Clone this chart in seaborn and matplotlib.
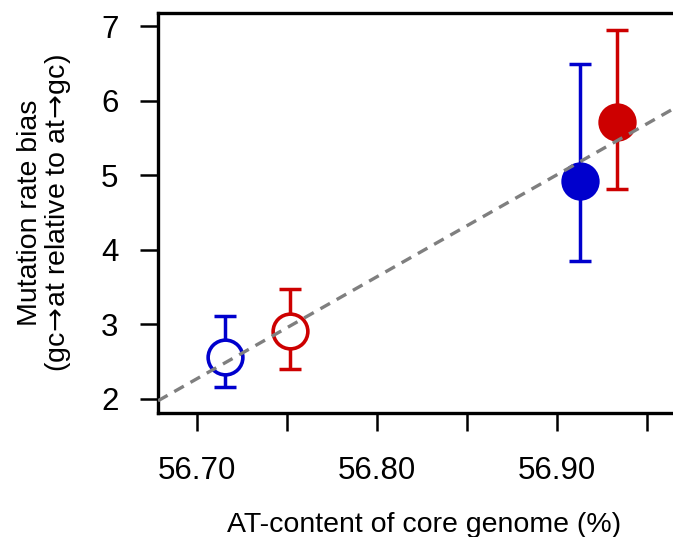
import numpy as np
import pandas as pd
import matplotlib
matplotlib.use("Agg")
import matplotlib.pyplot as plt
import seaborn as sns

# values
at_content = [56.7157, 56.7518, 56.913, 56.9337]
bias = [2.563, 2.91, 4.926, 5.709]
bias_low = [2.157, 2.40, 3.854, 4.81]
bias_high = [3.11, 3.475, 6.49, 6.946]
colors = ["#0000CD", "#CD0000", "#0000CD", "#CD0000"]
filled = [False, False, True, True]

x_ticks = [56.70, 56.75, 56.80, 56.85, 56.90, 56.95]
x_ticklabels = ["56.70", "", "56.80", "", "56.90", ""]
y_ticks = [2, 3, 4, 5, 6, 7]

data = pd.DataFrame({"at": at_content, "bias": bias})

sns.set_style("ticks", rc={"axes.edgecolor": "black", "text.color": "black",
                           "xtick.color": "black", "ytick.color": "black",
                           "axes.labelcolor": "black"})
plt.rcParams["font.family"] = ["Liberation Sans", "DejaVu Sans"]

fig = plt.figure(figsize=(6.73, 5.37), dpi=100)
ax = fig.add_axes([158 / 673, 1 - 413 / 537, 532 / 673, 400.3 / 537])
ax.set_xlim(56.6785, 56.974)
ax.set_ylim(1.81, 7.18)

# error bars + points
for i in range(len(at_content)):
    err = [[bias[i] - bias_low[i]], [bias_high[i] - bias[i]]]
    ax.errorbar(at_content[i], bias[i], yerr=err, fmt="none", ecolor=colors[i],
                elinewidth=2.5, capsize=7.8, capthick=2.5, zorder=2)
    ax.plot(at_content[i], bias[i], "o", ms=25,
            mfc=colors[i] if filled[i] else "white",
            mec=colors[i], mew=2.6, zorder=3)

# least-squares fit across the whole axis
sns.regplot(data=data, x="at", y="bias", ax=ax, scatter=False, ci=None,
            truncate=False,
            line_kws=dict(color="#7F7F7F", lw=2.4, ls=(0, (3.3, 2.3)), zorder=4))

ax.set_xticks(x_ticks)
ax.set_xticklabels(x_ticklabels)
ax.set_yticks(y_ticks)
ax.tick_params(axis="x", length=13, width=1.8, pad=18, labelsize=22.5)
ax.tick_params(axis="y", length=13, width=1.8, pad=15.5, labelsize=22.5)
for s in ax.spines.values():
    s.set_linewidth(2.4)

ax.set_xlabel("AT-content of core genome (%)", fontsize=20.5, va="baseline")
ax.xaxis.set_label_coords(0.5, -0.2965)
ax.set_ylabel("Mutation rate bias\n(gc$\\!\\rightarrow\\!$at relative to at$\\!\\rightarrow\\!$gc)",
              fontsize=20.5, va="center", linespacing=1.0)
ax.yaxis.set_label_coords(-0.2124, 0.5)

fig.savefig("out.png", dpi=100)
